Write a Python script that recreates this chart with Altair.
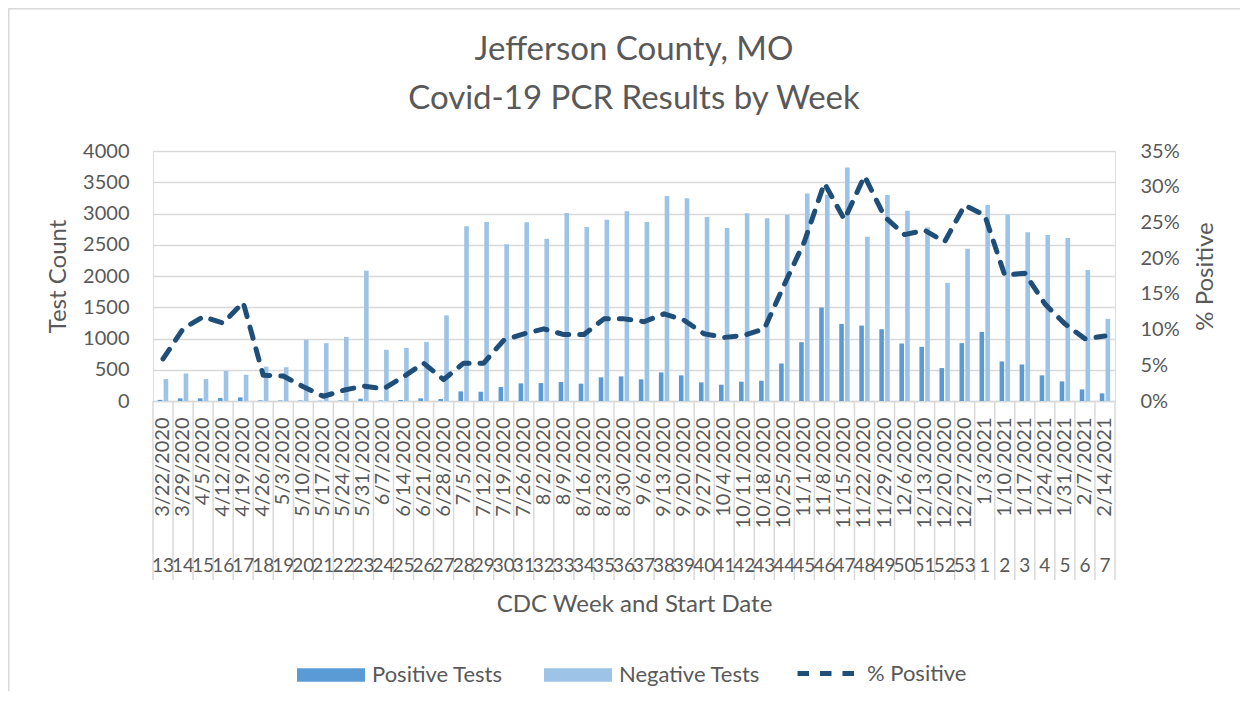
import altair as alt
import pandas as pd

dates = ["3/22/2020", "3/29/2020", "4/5/2020", "4/12/2020", "4/19/2020", "4/26/2020",
         "5/3/2020", "5/10/2020", "5/17/2020", "5/24/2020", "5/31/2020", "6/7/2020",
         "6/14/2020", "6/21/2020", "6/28/2020", "7/5/2020", "7/12/2020", "7/19/2020",
         "7/26/2020", "8/2/2020", "8/9/2020", "8/16/2020", "8/23/2020", "8/30/2020",
         "9/6/2020", "9/13/2020", "9/20/2020", "9/27/2020", "10/4/2020", "10/11/2020",
         "10/18/2020", "10/25/2020", "11/1/2020", "11/8/2020", "11/15/2020", "11/22/2020",
         "11/29/2020", "12/6/2020", "12/13/2020", "12/20/2020", "12/27/2020", "1/3/2021",
         "1/10/2021", "1/17/2021", "1/24/2021", "1/31/2021", "2/7/2021", "2/14/2021"]
weeks = [13, 14, 15, 16, 17, 18, 19, 20, 21, 22, 23, 24, 25, 26, 27, 28, 29, 30, 31, 32,
         33, 34, 35, 36, 37, 38, 39, 40, 41, 42, 43, 44, 45, 46, 47, 48, 49, 50, 51, 52,
         53, 1, 2, 3, 4, 5, 6, 7]
positive = [18, 43, 43, 48, 58, 10, 10, 8, 5, 8, 37, 8, 16, 43, 32, 154, 149, 223, 282, 287,
            303, 277, 378, 394, 346, 457, 410, 298, 261, 309, 324, 601, 941, 1495, 1234, 1207,
            1149, 920, 867, 527, 926, 1106, 633, 585, 410, 314, 186, 122]
negative = [350, 440, 350, 480, 420, 550, 540, 980, 925, 1025, 2085, 820, 850, 945, 1370, 2795,
            2865, 2510, 2860, 2595, 3010, 2785, 2900, 3035, 2865, 3280, 3245, 2945, 2770, 3005,
            2925, 2980, 3320, 3300, 3735, 2630, 3295, 3045, 2775, 1890, 2435, 3135, 2980, 2700,
            2655, 2610, 2095, 1315]
pct_positive = [0.059, 0.101, 0.118, 0.109, 0.138, 0.036, 0.035, 0.020, 0.0065, 0.015, 0.021,
                0.017, 0.034, 0.053, 0.030, 0.053, 0.053, 0.085, 0.094, 0.101, 0.093, 0.093,
                0.115, 0.115, 0.111, 0.122, 0.113, 0.094, 0.089, 0.092, 0.101, 0.163, 0.223,
                0.305, 0.254, 0.315, 0.258, 0.233, 0.239, 0.223, 0.274, 0.260, 0.176, 0.179,
                0.136, 0.108, 0.087, 0.091]

bar_series = ["Positive Tests", "Negative Tests"]
bar_colors = ["#5b9bd5", "#9dc3e6"]
line_series = "% Positive"
line_color = "#1f4e79"

df = pd.DataFrame({"date": dates, "week": weeks, "pos": positive, "neg": negative,
                   "pct": pct_positive})

TXT = "#595959"
GRID = "#d9d9d9"
FONT = "Lato"

x_axis = alt.Axis(labelAngle=270, labelPadding=16, labelFontSize=20, labelColor=TXT,
                  labelFont=FONT, labelOverlap=False, ticks=False, domain=True,
                  domainColor=GRID, domainWidth=1.5, grid=False,
                  titleFontSize=24, titleFont=FONT, titleColor=TXT, titleFontWeight="normal",
                  titleY=203, titleBaseline="middle")
x_enc = alt.X("date:N", sort=dates, scale=alt.Scale(paddingInner=0, paddingOuter=0),
              axis=x_axis, title="CDC Week and Start Date")

left_axis = alt.Axis(values=[0, 500, 1000, 1500, 2000, 2500, 3000, 3500, 4000], format="d",
                     labelFontSize=20, labelColor=TXT, labelFont=FONT, labelPadding=24,
                     ticks=False, domain=False, gridColor=GRID, gridWidth=1.4,
                     titleFontSize=24, titleFont=FONT, titleColor=TXT,
                     titleFontWeight="normal", titlePadding=12)
y_scale = alt.Scale(domain=[0, 4000])

bar_legend = alt.Legend(
    orient="none", legendX=144, legendY=490, direction="horizontal", title=None,
    symbolType="M-1,-0.2H1V0.2H-1Z", symbolSize=4624, symbolStrokeWidth=0,
    symbolOpacity=1, labelFontSize=22, labelFont=FONT, labelColor=TXT,
    columnPadding=41, labelOffset=7, padding=0,
)
line_legend = alt.Legend(
    orient="none", legendX=642, legendY=490, direction="horizontal", title=None,
    symbolType="stroke", symbolSize=3600, symbolStrokeColor=line_color,
    symbolStrokeWidth=5, symbolDash=[17, 4.5], symbolOpacity=1,
    labelFontSize=22, labelFont=FONT, labelColor=TXT, labelOffset=7, padding=0,
)
color_scale = alt.Scale(domain=bar_series, range=bar_colors)

base = alt.Chart(df)

frame = alt.Chart(pd.DataFrame({"f": [0]})).mark_rect(
    fill=None, stroke=GRID, strokeWidth=1.5).encode(
    x=alt.value(-144.2), x2=alt.value(1300), y=alt.value(-142.2), y2=alt.value(700),
)

pos_bar = base.transform_calculate(series=f"'{bar_series[0]}'").mark_bar(
    width=4.6, xOffset=-2.9).encode(
    x=x_enc,
    y=alt.Y("pos:Q", scale=y_scale, axis=left_axis, title="Test Count"),
    color=alt.Color("series:N", scale=color_scale, legend=bar_legend),
)
neg_bar = base.transform_calculate(series=f"'{bar_series[1]}'").mark_bar(
    width=4.6, xOffset=2.9).encode(
    x=x_enc,
    y=alt.Y("neg:Q", scale=y_scale, axis=left_axis, title="Test Count"),
    color=alt.Color("series:N", scale=color_scale, legend=bar_legend),
)

dividers = base.mark_rule(color=GRID, strokeWidth=1.5).encode(
    x=alt.X("date:N", sort=dates, bandPosition=0),
    y=alt.value(250), y2=alt.value(429),
)
end_divider = base.transform_filter(alt.datum.date == dates[-1]).mark_rule(
    color=GRID, strokeWidth=1.5).encode(
    x=alt.X("date:N", sort=dates, bandPosition=1),
    y=alt.value(250), y2=alt.value(429),
)
week_text = base.mark_text(fontSize=19, font=FONT, color=TXT, baseline="middle",
                           align="center").encode(
    x=alt.X("date:N", sort=dates),
    y=alt.value(415),
    text="week:N",
)

bars = alt.layer(frame, pos_bar, neg_bar, dividers, end_divider, week_text)

line = base.transform_calculate(series=f"'{line_series}'").mark_line(
    strokeWidth=5, strokeCap="round", strokeJoin="round", color=line_color).encode(
    x=x_enc,
    y=alt.Y("pct:Q", scale=alt.Scale(domain=[0, 0.35]), title="% Positive",
            axis=alt.Axis(values=[0, 0.05, 0.1, 0.15, 0.2, 0.25, 0.3, 0.35], format=".0%",
                          labelFontSize=20, labelColor=TXT, labelFont=FONT,
                          labelPadding=25, ticks=False, domain=False, grid=False,
                          titleFontSize=24, titleFont=FONT, titleColor=TXT,
                          titleFontWeight="normal", titlePadding=14, titleAngle=270,
                          titleBaseline="top")),
    strokeDash=alt.StrokeDash("series:N",
                              scale=alt.Scale(domain=[line_series], range=[[11.5, 11]]),
                              legend=line_legend),
)

chart = alt.layer(bars, line).resolve_scale(y="independent").properties(
    width=962, height=250,
    title=alt.Title(["Jefferson County, MO", "Covid-19 PCR Results by Week"],
                    fontSize=33, font=FONT, color=TXT, fontWeight="normal",
                    lineHeight=49, anchor="middle", frame="group", offset=28, dy=136),
    autosize=alt.AutoSizeParams(type="none"),
    padding={"left": 145, "top": 143, "right": 125, "bottom": 290},
).configure_view(stroke=None).configure(font=FONT)

chart.save("out.html", embed_options={"renderer": "svg", "actions": False})
